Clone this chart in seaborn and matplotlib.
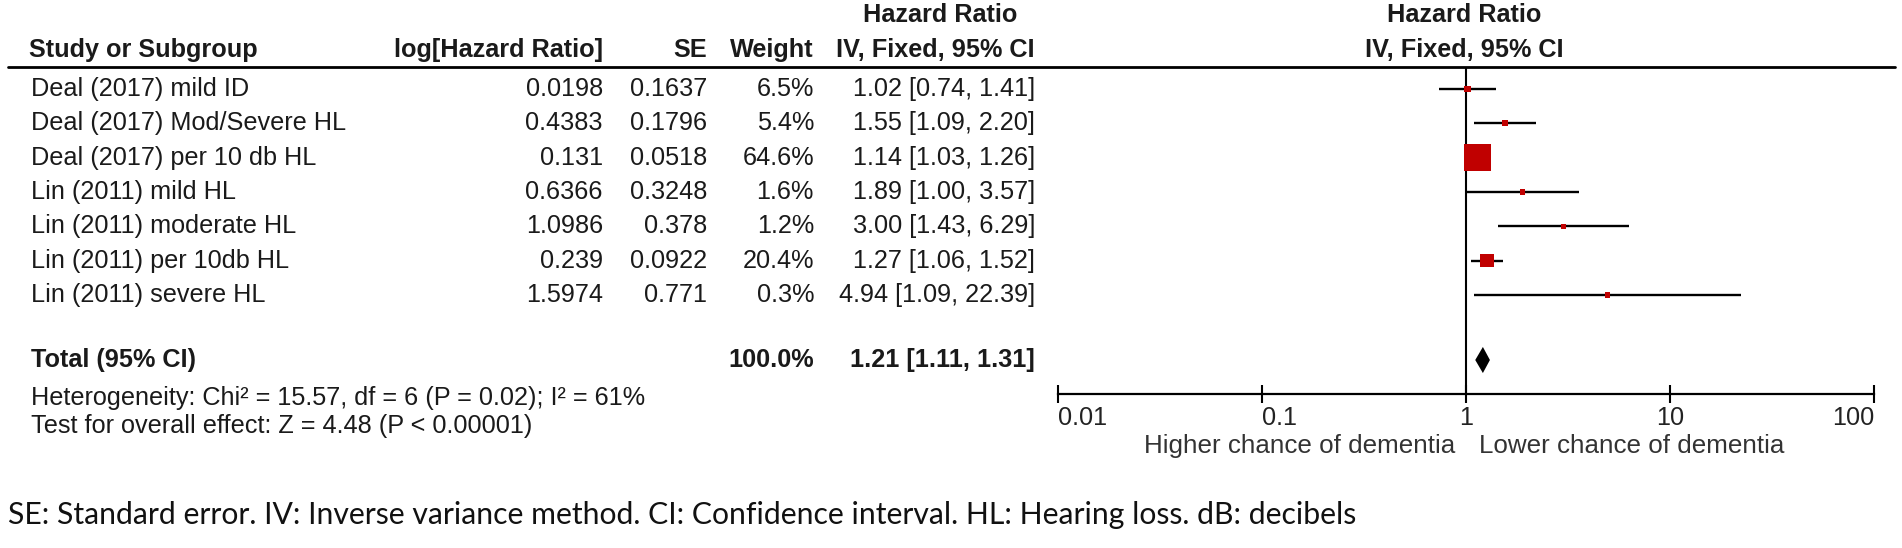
import numpy as np
import pandas as pd
import matplotlib
matplotlib.use("Agg")
import matplotlib.pyplot as plt
import matplotlib.transforms as mtransforms
from matplotlib.lines import Line2D
import seaborn as sns

# ---------------- data ----------------
studies = ["Deal (2017) mild ID", "Deal (2017) Mod/Severe HL", "Deal (2017) per 10 db HL",
           "Lin (2011) mild HL", "Lin (2011) moderate HL", "Lin (2011) per 10db HL",
           "Lin (2011) severe HL"]
log_hr_text = ["0.0198", "0.4383", "0.131", "0.6366", "1.0986", "0.239", "1.5974"]
se_text = ["0.1637", "0.1796", "0.0518", "0.3248", "0.378", "0.0922", "0.771"]
weights = [6.5, 5.4, 64.6, 1.6, 1.2, 20.4, 0.3]
hr = [1.02, 1.55, 1.14, 1.89, 3.00, 1.27, 4.94]
ci_low = [0.74, 1.09, 1.03, 1.00, 1.43, 1.06, 1.09]
ci_high = [1.41, 2.20, 1.26, 3.57, 6.29, 1.52, 22.39]
total_hr = 1.21
total_low = 1.11
total_high = 1.31
total_weight_text = "100.0%"
heterogeneity = "Heterogeneity: Chi\u00b2 = 15.57, df = 6 (P = 0.02); I\u00b2 = 61%"
overall_effect = "Test for overall effect: Z = 4.48 (P < 0.00001)"
x_ticks = [0.01, 0.1, 1, 10, 100]
x_tick_labels = ["0.01", "0.1", "1", "10", "100"]
left_label = "Higher chance of dementia"
right_label = "Lower chance of dementia"
footnote = ("SE: Standard error. IV: Inverse variance method. CI: Confidence interval. "
            "HL: Hearing loss. dB: decibels")

df = pd.DataFrame({"study": studies, "hr": hr, "lo": ci_low, "hi": ci_high,
                   "w": weights, "row": np.arange(len(studies))})

# ---------------- style ----------------
sns.set_style("white")
plt.rcParams["font.family"] = ["Liberation Sans", "DejaVu Sans"]

W, H, DPI = 1902, 548, 100
fig = plt.figure(figsize=(W / DPI, H / DPI), dpi=DPI)
TXT = "#1a1a1a"
FS = 18.2

def fx(px):
    return px / W

def fy(py):
    return 1 - py / H

# forest axes: 0.01 -> x=1058px, 100 -> x=1874px ; top y=67px, bottom y=394px
ax = fig.add_axes([fx(1058), fy(394), fx(1874) - fx(1058), fy(67) - fy(394)])
ax.set_xscale("log")
ax.set_xlim(0.01, 100)
row_px = 34.33
ax.set_ylim((394 - 89) / row_px, (67 - 89) / row_px)
total_row = (360 - 89) / row_px

# CI lines
ax.hlines(df["row"], df["lo"], df["hi"], color="black", lw=1.7, zorder=2)
# squares, side in px grows with weight, min ~5.5px
side_px = np.maximum(5.5, 27 * (df["w"] / df["w"].max()) ** 0.6)
side_pt = side_px * 72 / DPI
sns.scatterplot(data=df, x="hr", y="row", marker="s", s=side_pt ** 2,
                color="#C00000", linewidth=0, ax=ax, legend=False, zorder=3)
# diamond
dh = 0.38
ax.fill([total_low, total_hr, total_high, total_hr],
        [total_row, total_row - dh, total_row, total_row + dh],
        color="black", zorder=3, lw=0)
# line of no effect
ax.axvline(1, color="black", lw=1.5, zorder=1)

for s in ["left", "right", "top"]:
    ax.spines[s].set_visible(False)
ax.spines["bottom"].set_linewidth(1.6)
ax.spines["bottom"].set_color("black")
ax.set_xticks(x_ticks)
ax.set_xticklabels(x_tick_labels)
ax.xaxis.set_minor_locator(matplotlib.ticker.NullLocator())
ax.tick_params(axis="x", direction="inout", length=13, width=1.5, pad=2,
               labelsize=FS, colors="black", labelcolor="#222222", bottom=True)
ax.set_yticks([])
ax.set_xlabel("")
ax.set_ylabel("")
ha_list = ["left", "left", "center", "center", "right"]
for lab, ha in zip(ax.get_xticklabels(), ha_list):
    lab.set_ha(ha)

# ---------------- table text ----------------
blend = mtransforms.blended_transform_factory(fig.transFigure, ax.transData)

def row_text(xpx, row, s, ha="left", bold=False, color=TXT):
    fig.text(fx(xpx), row, s, transform=blend, ha=ha, va="center", fontsize=FS,
             fontweight="bold" if bold else "normal", color=color)

for i, r in df.iterrows():
    row_text(31, r["row"], r["study"])
    row_text(603, r["row"], log_hr_text[i], ha="right")
    row_text(707, r["row"], se_text[i], ha="right")
    row_text(814, r["row"], f"{r['w']:.1f}%", ha="right")
    row_text(1035, r["row"], f"{r['hr']:.2f} [{r['lo']:.2f}, {r['hi']:.2f}]", ha="right")

row_text(31, total_row, "Total (95% CI)", bold=True)
row_text(814, total_row, total_weight_text, ha="right", bold=True)
row_text(1035, total_row, f"{total_hr:.2f} [{total_low:.2f}, {total_high:.2f}]",
         ha="right", bold=True)

# headers
def hdr(xpx, ypx, s, ha):
    fig.text(fx(xpx), fy(ypx), s, ha=ha, va="center", fontsize=FS,
             fontweight="bold", color=TXT)

hdr(29, 50, "Study or Subgroup", "left")
hdr(603, 50, "log[Hazard Ratio]", "right")
hdr(707, 50, "SE", "right")
hdr(814, 50, "Weight", "right")
hdr(940, 15, "Hazard Ratio", "center")
hdr(1035, 50, "IV, Fixed, 95% CI", "right")
hdr(1464, 15, "Hazard Ratio", "center")
hdr(1464, 50, "IV, Fixed, 95% CI", "center")

fig.add_artist(Line2D([fx(8), fx(1895)], [fy(67), fy(67)], transform=fig.transFigure,
                      color="black", lw=2.0))

# heterogeneity / overall effect
fig.text(fx(31), fy(398), heterogeneity, ha="left", va="center", fontsize=FS, color=TXT)
fig.text(fx(31), fy(426), overall_effect, ha="left", va="center", fontsize=FS, color=TXT)

# direction labels
fig.text(fx(1455), fy(446), left_label, ha="right", va="center", fontsize=FS + 0.5,
         color="#333333")
fig.text(fx(1479), fy(446), right_label, ha="left", va="center", fontsize=FS + 0.5,
         color="#333333")

# footnote, fitted to width
ft = fig.text(fx(8), fy(515), footnote, ha="left", va="center", fontsize=20,
              color="#111111", family=["Lato", "DejaVu Sans"])
fig.canvas.draw()
w = ft.get_window_extent().width
ft.set_fontsize(20 * 1349 / w)

fig.savefig("out.png", dpi=DPI)
